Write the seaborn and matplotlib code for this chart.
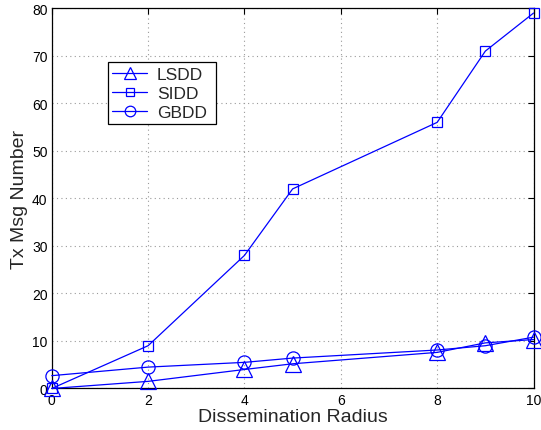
import matplotlib
matplotlib.use("Agg")
import matplotlib.pyplot as plt
import seaborn as sns
import pandas as pd

# Dissemination radius values and transmitted message counts per scheme
radius = [0, 2, 4, 5, 8, 9, 10]
lsdd = [0, 1.5, 4.0, 5.2, 7.6, 9.6, 10.3]
sidd = [0, 9, 28, 42, 56, 71, 79]
gbdd = [2.7, 4.5, 5.5, 6.4, 8.1, 9.0, 10.8]

series_names = ["LSDD", "SIDD", "GBDD"]
series_values = [lsdd, sidd, gbdd]
series_markers = ["^", "s", "o"]
series_msize = [11, 7.5, 9.5]

x_ticks = [0, 2, 4, 6, 8, 10]
y_ticks = [0, 10, 20, 30, 40, 50, 60, 70, 80]

sns.set_theme(style="white")
plt.rcParams["font.family"] = ["Liberation Sans", "DejaVu Sans"]

fig = plt.figure(figsize=(5.41, 4.31), dpi=100)
ax = fig.add_axes([0.0956, 0.0963, 0.8906, 0.8821])

blue = (0, 0, 1)
for name, vals, mk, ms in zip(series_names, series_values, series_markers, series_msize):
    df = pd.DataFrame({"radius": radius, "count": vals})
    sns.lineplot(data=df, x="radius", y="count", ax=ax, color=blue,
                 marker=mk, markersize=ms, markerfacecolor="none",
                 markeredgecolor=blue, markeredgewidth=0.9, linewidth=0.9,
                 label=name, clip_on=False, zorder=3)

ax.set_xlim(0, 10)
ax.set_ylim(0, 80)
ax.set_xticks(x_ticks)
ax.set_yticks(y_ticks)
ax.grid(True, linestyle=(0, (1, 3)), color="#9a9a9a", linewidth=0.8)
ax.tick_params(direction="in", length=4, width=0.8, top=True, right=True,
               labelsize=10, colors="black", pad=3)
for sp in ax.spines.values():
    sp.set_visible(True)
    sp.set_color("black")
    sp.set_linewidth(0.9)

ax.set_xlabel("Dissemination Radius", fontsize=14, labelpad=1)
ax.set_ylabel("Tx Msg Number", fontsize=14, labelpad=3)

leg = ax.legend(loc="upper left", bbox_to_anchor=(0.1175, 0.658, 0.223, 0.2),
                mode="expand", fontsize=12.5,
                frameon=True, fancybox=False, edgecolor="black", framealpha=1,
                handlelength=1.97, handletextpad=0.58, borderpad=0.24,
                labelspacing=0.225, borderaxespad=0, markerscale=0.8)
leg.get_frame().set_linewidth(0.9)

fig.savefig("out.png", dpi=100)
